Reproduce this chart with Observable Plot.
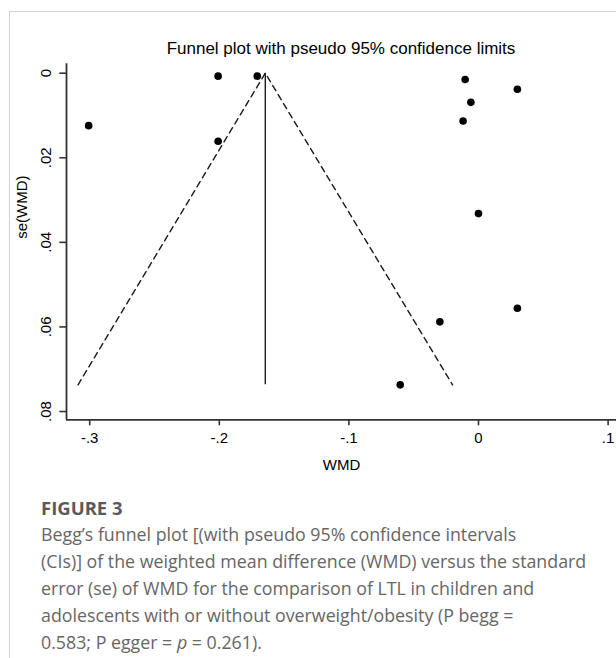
<!DOCTYPE html>
<html>
<head>
<meta charset="utf-8">
<script src="https://cdn.jsdelivr.net/npm/d3@7"></script>
<script src="https://cdn.jsdelivr.net/npm/@observablehq/plot@0.6"></script>
<style>
  html, body { margin: 0; padding: 0; background: #fff; }
  body { width: 616px; height: 658px; position: relative; overflow: hidden; }
  #card { position: absolute; left: 9px; top: 11px; width: 640px; height: 680px;
          border-left: 1px solid #d2d2d2; border-top: 1px solid #d2d2d2; box-sizing: border-box; }
  #title { position: absolute; left: 66px; width: 550px; top: 39px; line-height: 20px;
           text-align: center; font-family: "Liberation Sans", Arial, sans-serif; font-size: 17px; color: #000; }
  #chart { position: absolute; left: 0; top: 56px; }
  #figlabel { position: absolute; left: 41px; top: 496px; font-family: "Open Sans", sans-serif;
              font-weight: 700; font-size: 18.5px; line-height: 24px; color: #5a5a5a; }
  #caption { position: absolute; left: 41px; top: 521px; width: 572px; font-family: "Open Sans", sans-serif;
             font-size: 17.8px; line-height: 27px; color: #666; white-space: nowrap; }
</style>
</head>
<body>
<div id="card"></div>
<div id="title">Funnel plot with pseudo 95% confidence limits</div>
<div id="chart"></div>
<div id="figlabel">FIGURE 3</div>
<div id="caption">Begg’s funnel plot [(with pseudo 95% confidence intervals<br>(CIs)] of the weighted mean difference (WMD) versus the standard<br>error (se) of WMD for the comparison of LTL in children and<br>adolescents with or without overweight/obesity (P begg =<br>0.583; P egger = <i>p</i> = 0.261).</div>
<script>
// Study estimates
const wmd   = [-0.3008, -0.2009, -0.1707, -0.2009, -0.0103, 0.0300, -0.0059, -0.0119, 0.0000, 0.0300, -0.0298, -0.0604];
const seWmd = [ 0.0124,  0.0007,  0.0007,  0.0161,  0.0015, 0.0038,  0.0069,  0.0113, 0.0332, 0.0556,  0.0588,  0.0737];

// Pooled estimate and pseudo 95% limits (funnel vertices)
const pooled = -0.1645;
const seMax = 0.0737;
const funnelX  = [-0.309, -0.1645, -0.020];
const funnelSe = [0.0737, 0, 0.0737];

// Axes
const xTicks = [-0.3, -0.2, -0.1, 0, 0.1];
const xTickLabels = ["-.3", "-.2", "-.1", "0", ".1"];
const yTicks = [0, 0.02, 0.04, 0.06, 0.08];
const yTickLabels = ["0", ".02", ".04", ".06", ".08"];
const xDomain = [-0.3179, 0.10648];
const yDomain = [-0.00222, 0.08196];
const xTitle = "WMD";
const yTitle = "se(WMD)";

const studies = wmd.map((x, i) => ({x, se: seWmd[i]}));
const funnel = funnelX.map((x, i) => ({x, se: funnelSe[i]}));
const xLab = new Map(xTicks.map((t, i) => [t, xTickLabels[i]]));
const yLab = new Map(yTicks.map((t, i) => [t, yTickLabels[i]]));

const ink = "#1a1a1a";
const chart = Plot.plot({
  width: 616,
  height: 425,
  marginTop: 7.3,
  marginBottom: 61.7,
  marginLeft: 66,
  marginRight: 0,
  style: {fontFamily: "'Liberation Sans', Arial, sans-serif", fontSize: "15px", color: "#000", background: "transparent"},
  x: {domain: xDomain},
  y: {domain: yDomain, reverse: true},
  marks: [
    Plot.line(funnel, {x: "x", y: "se", stroke: ink, strokeWidth: 1.4, strokeDasharray: "6,4.5"}),
    Plot.ruleX([pooled], {y1: 0, y2: seMax, stroke: ink, strokeWidth: 1.4}),
    Plot.dot(studies, {x: "x", y: "se", r: 3.8, fill: "#000", stroke: "none"}),
    Plot.ruleX([xDomain[0]], {stroke: "#333", strokeWidth: 1.8}),
    Plot.ruleY([yDomain[1]], {stroke: "#333", strokeWidth: 1.8}),
    Plot.axisX({ticks: xTicks, tickFormat: d => xLab.get(d), tickSize: 6, tickPadding: 7, strokeWidth: 1.6, stroke: "#333", label: null, fill: "#000", fontSize: 15}),
    Plot.axisY({ticks: yTicks, tickFormat: d => yLab.get(d), tickSize: 6.7, tickPadding: 9, tickRotate: -90, strokeWidth: 1.6, stroke: "#333", label: null, fill: "#000", fontSize: 15}),
    Plot.text([xTitle], {frameAnchor: "bottom", dy: 45.7, text: d => d, fontSize: 15, fill: "#000", lineAnchor: "middle"}),
    Plot.text([yTitle], {frameAnchor: "left", dx: -44, dy: -3, rotate: -90, text: d => d, fontSize: 15, fill: "#000", lineAnchor: "middle"})
  ]
});
document.getElementById("chart").appendChild(chart);
</script>
</body>
</html>
